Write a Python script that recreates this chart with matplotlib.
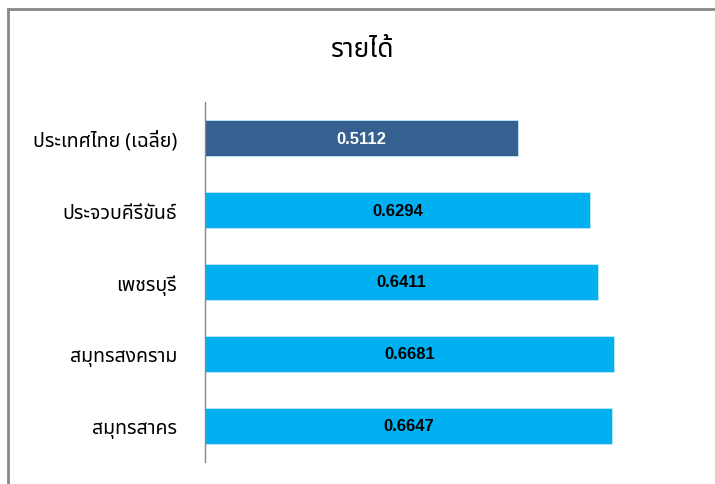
import matplotlib
matplotlib.use("Agg")
import matplotlib.pyplot as plt
from matplotlib.lines import Line2D

# data (top to bottom as shown)
provinces = ["ประเทศไทย (เฉลี่ย)", "ประจวบคีรีขันธ์", "เพชรบุรี", "สมุทรสงคราม", "สมุทรสาคร"]
income = [0.5112, 0.6294, 0.6411, 0.6681, 0.6647]
bar_colors = ["#36608F", "#00B0F0", "#00B0F0", "#00B0F0", "#00B0F0"]
text_colors = ["white", "black", "black", "black", "black"]
title = "รายได้"

thai_font = ["Noto Sans Thai", "DejaVu Sans"]
num_font = ["Liberation Sans Narrow", "Liberation Sans", "DejaVu Sans"]

fig = plt.figure(figsize=(7.15, 4.85), dpi=100)
ax = fig.add_axes([0.2867, 0.0454, 0.972 - 0.2867, 0.7422])

ypos = list(range(len(provinces)))
bars = ax.barh(ypos, income, height=0.5, color=bar_colors, edgecolor="#BFE9FA", linewidth=0.6)

# value labels centred in each bar
for b, v, c in zip(bars, income, text_colors):
    ax.text(b.get_x() + b.get_width() / 2, b.get_y() + b.get_height() / 2, f"{v:.4f}",
            ha="center", va="center", color=c, fontsize=12, fontweight="bold", family=num_font)

ax.set_xlim(0, 0.8)
ax.set_ylim(len(provinces) - 0.5, -0.5)
ax.set_yticks(ypos)
ax.set_yticklabels(provinces, family=thai_font, fontsize=14)
ax.tick_params(axis="y", length=0, pad=20)
ax.set_xticks([])
for s in ["top", "right", "bottom"]:
    ax.spines[s].set_visible(False)
ax.spines["left"].set_color("#868686")
ax.spines["left"].set_linewidth(1)

fig.text(0.507, 0.897, title, ha="center", va="center", fontsize=19, family=thai_font)

# chart frame (only top and left edges show)
fig.add_artist(Line2D([0.011, 1.0], [0.979, 0.979], color="#888888", linewidth=2))
fig.add_artist(Line2D([0.011, 0.011], [0.0, 0.979], color="#888888", linewidth=2))

fig.savefig("out.png")
